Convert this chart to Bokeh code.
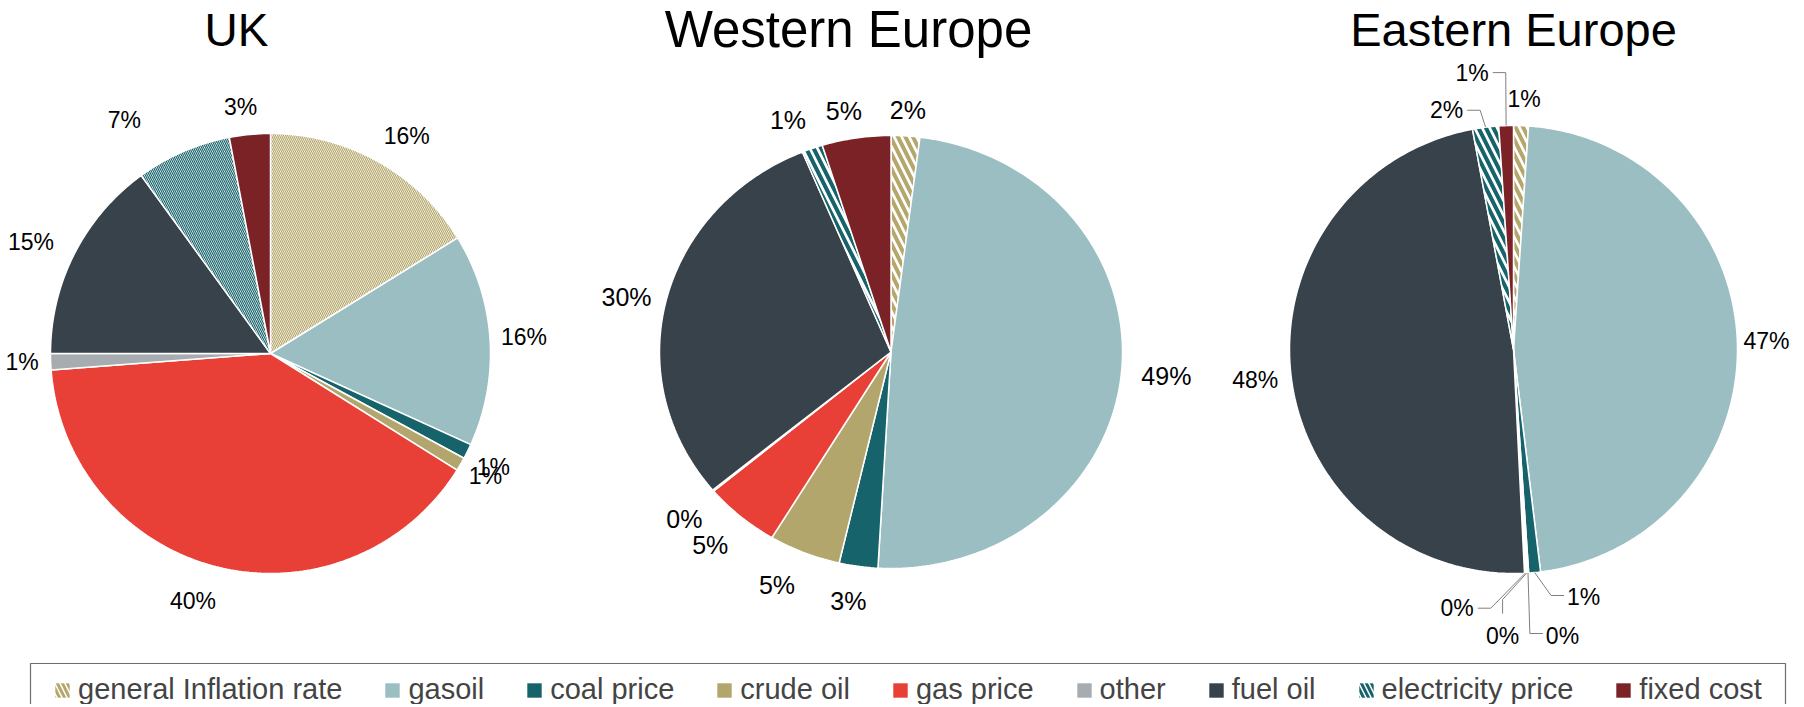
import math
from bokeh.plotting import figure
from bokeh.models import Range1d, ColumnDataSource, Legend, LegendItem
from bokeh.core.properties import value
from bokeh.embed import file_html
from bokeh.resources import INLINE

# ---------------- data ----------------
categories = ["general Inflation rate", "gasoil", "coal price", "crude oil", "gas price",
              "other", "fuel oil", "electricity price", "fixed cost"]
uk = [16.2, 15.6, 1.1, 1.0, 39.9, 1.2, 15.0, 7.0, 3.0]
western_europe = [2.0, 48.9, 2.7, 5.0, 5.3, 0.1, 29.75, 1.45, 4.8]
eastern_europe = [1.07, 47.0, 0.85, 0.1, 0.1, 0.1, 47.85, 1.88, 1.05]
titles = ["UK", "Western Europe", "Eastern Europe"]

# ---------------- styles ----------------
colors = ["#FFFFFF", "#9BBEC3", "#17636B", "#B3A66C", "#E84036", "#A6ACAF", "#37424A", "#FFFFFF", "#7B2227"]
hatches = ["\\", " ", " ", " ", " ", " ", " ", "\\", " "]
hatch_colors = ["#B5A76B", "#000000", "#000000", "#000000", "#000000", "#000000", "#000000", "#17636B", "#000000"]

W, H = 1800, 704
FONT = "Liberation Sans"


def Y(yscreen):
    return 707 - yscreen


p = figure(width=W, height=H, x_range=Range1d(0, W), y_range=Range1d(707 - H, 707),
           output_backend="svg", toolbar_location=None, x_axis_type=None, y_axis_type=None,
           min_border=0, outline_line_color=None, background_fill_color="white")
p.xgrid.visible = False
p.ygrid.visible = False

# pie layout
pies = [
    dict(vals=uk, cx=270, cy=353, rx=220, ry=220, hs=4, hw=1.2, tx=236, ts=46, ls=23),
    dict(vals=western_europe, cx=890.5, cy=351.5, rx=231.5, ry=216.5, hs=15, hw=4, tx=848, ts=51, ls=25),
    dict(vals=eastern_europe, cx=1513, cy=349, rx=224, ry=224, hs=15, hw=4, tx=1513, ts=47, ls=23),
]

# label nudges (dx, dy) and optional leader side
nudges = [
    [(9, 0), (-7, -1), (-5, 2), (-5, -3), (-15, 5), (6, -1), (-7, 2), (-45, -5), (-6, 2)],
    [(0, 5), (2, 2), (-5, 4), (-14, 4), (-7, 5), (-1, 9), (2, 5), (-12, 0), (-7, 3)],
    [(2, 3), (-12, -2), (49, 25), (34.5, 62.5), (-24, 63), (-68, 35), (5, 1), (-39, -17), (-34, -53)],
]
leaders = [
    [None] * 9,
    [None] * 9,
    [None, None, "L", "L", "T", "R", None, "R", "R"],
]


def text_width(t, size):
    w = 0
    for ch in t:
        w += 0.889 if ch == "%" else 0.556
    return w * size


for pi, pie in enumerate(pies):
    vals = pie["vals"]
    total = sum(vals)
    cx, cy, rx, ry = pie["cx"], pie["cy"], pie["rx"], pie["ry"]
    size = pie["ls"]
    xs, ys = [], []
    lx, ly, lt = [], [], []
    lead_x, lead_y = [], []
    cum = 0.0
    for i, v in enumerate(vals):
        a0 = cum / total * 2 * math.pi
        cum += v
        a1 = cum / total * 2 * math.pi
        n = max(2, int((a1 - a0) / (2 * math.pi) * 360) + 2)
        px = [cx]
        py = [Y(cy)]
        for k in range(n + 1):
            t = a0 + (a1 - a0) * k / n
            px.append(cx + rx * math.sin(t))
            py.append(Y(cy - ry * math.cos(t)))
        xs.append(px)
        ys.append(py)

        # label
        txt = "%d%%" % int(round(v))
        mid = (a0 + a1) / 2
        s, c = math.sin(mid), math.cos(mid)
        w = text_width(txt, size)
        h = size
        dx, dy = nudges[pi][i]
        side = leaders[pi][i]
        if side is None:
            g = 18
            bx = cx + (rx + g) * s + s * w / 2
            by = cy - (ry + g) * c - c * h / 2
            x0, y0 = bx + dx, by + dy
        else:
            ex, ey = cx + rx * s, cy - ry * c
            x0, y0 = ex + dx, ey + dy
            if side == "L":
                left = x0 - w / 2
                pts = [(ex, ey), (left - 16, y0 - 2), (left - 3, y0 - 2)]
            elif side == "R":
                right = x0 + w / 2
                pts = [(ex, ey), (right + 17, y0), (right + 4, y0)]
            else:
                top = y0 - h / 2
                pts = [(ex, ey), (x0, top - 25), (x0, top - 11)]
            lead_x.append([q[0] for q in pts])
            lead_y.append([Y(q[1]) for q in pts])
        lx.append(x0)
        ly.append(Y(y0))
        lt.append(txt)

    src = ColumnDataSource(dict(xs=xs, ys=ys, fill=colors, hatch=hatches, hcol=hatch_colors))
    p.patches("xs", "ys", source=src, fill_color="fill", hatch_pattern="hatch",
              hatch_color="hcol", hatch_scale=pie["hs"], hatch_weight=pie["hw"],
              line_color="white", line_width=1.5)
    if lead_x:
        p.multi_line(lead_x, lead_y, line_color="#7F7F7F", line_width=1)
    p.text(x=lx, y=ly, text=lt, text_align="center", text_baseline="middle",
           text_font=value(FONT), text_font_size="%dpx" % size, text_color="#000000")

    # title
    p.text(x=[pie["tx"]], y=[Y(29)], text=[titles[pi]], text_align="center",
           text_baseline="middle", text_font=value(FONT), text_font_size="%dpx" % pie["ts"],
           text_color="#000000")

# legend frame (bottom edge extends below the visible page)
p.quad(left=[30], right=[1785], top=[Y(663)], bottom=[Y(760)], fill_color=None,
       line_color="#6D6D6D", line_width=1.2)

# legend dummy renderers, placed outside visible range
items = []
for i, cat in enumerate(categories):
    r = p.quad(left=[-200], right=[-190], top=[-200], bottom=[-190], fill_color=colors[i],
               hatch_pattern=hatches[i], hatch_color=hatch_colors[i], hatch_scale=10,
               hatch_weight=3, line_color=None)
    items.append(LegendItem(label=cat, renderers=[r]))

legend = Legend(items=items, orientation="horizontal", location=(53, -2), spacing=41,
                glyph_width=18, glyph_height=18, label_standoff=7, label_height=20,
                label_text_font=FONT, label_text_font_size="29px", padding=0, margin=0,
                border_line_alpha=0, background_fill_alpha=0)
p.add_layout(legend)

open("out.html", "w").write(file_html(p, INLINE))
